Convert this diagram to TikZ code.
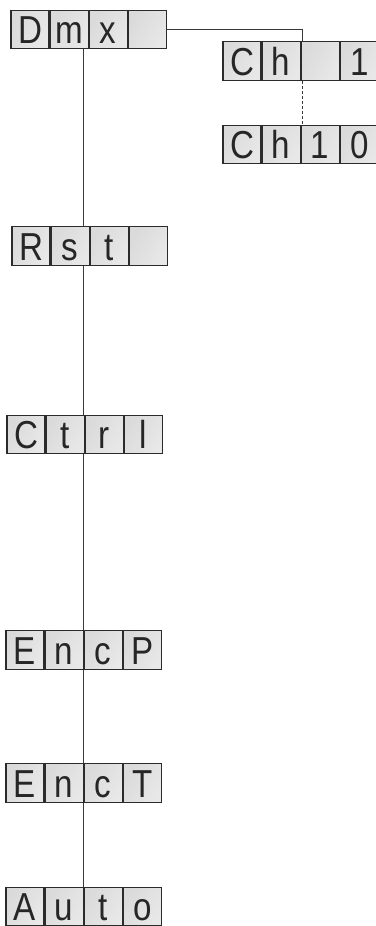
\documentclass[tikz,border=0pt]{standalone}
\usepackage{fontspec}
\newfontfamily\lcdfont[FakeStretch=0.85]{Liberation Sans}
\usetikzlibrary{positioning}
\definecolor{PanelFrame}{HTML}{2B2B2B}
\definecolor{PanelGrey}{HTML}{DADADA}
\definecolor{PanelLight}{HTML}{E8E8E8}
\definecolor{PanelWire}{HTML}{3A3A3A}
\tikzset{
    % One segment of a display
    cell/.style={
        rectangle,
        draw=PanelFrame,
        line width=1.1pt,
        left color=PanelGrey,
        middle color=white,
        right color=PanelLight,
        shading angle=60,
        minimum width=38pt,
        minimum height=38.5pt,
        inner sep=0pt,
        text height=28pt,
        text depth=0pt,
        text=black!85,
        font=\lcdfont\fontsize{39}{39}\selectfont
    },
    % Menu wire
    wire/.style={
        draw=PanelWire,
        line width=0.9pt
    }
}
\begin{document}
\begin{tikzpicture}[x=1pt, y=1pt]
        \useasboundingbox (0,0) rectangle (375,-926);

        % Main menu
        \node (dmxA) [cell] at (30,-29.5) {D};
        \node (dmxB) [cell, right=0pt of dmxA] {m};
        \node (dmxC) [cell, right=0pt of dmxB] {x};
        \node (dmxD) [cell, right=0pt of dmxC] {};

        \node (rstA) [cell] at (31,-246) {R};
        \node (rstB) [cell, right=0pt of rstA] {s};
        \node (rstC) [cell, right=0pt of rstB] {t};
        \node (rstD) [cell, right=0pt of rstC] {};

        \node (ctrlA) [cell] at (26,-434.5) {C};
        \node (ctrlB) [cell, right=0pt of ctrlA] {t};
        \node (ctrlC) [cell, right=0pt of ctrlB] {r};
        \node (ctrlD) [cell, right=0pt of ctrlC] {l};

        \node (encpA) [cell] at (25,-650) {E};
        \node (encpB) [cell, right=0pt of encpA] {n};
        \node (encpC) [cell, right=0pt of encpB] {c};
        \node (encpD) [cell, right=0pt of encpC] {P};

        \node (enctA) [cell] at (25,-783) {E};
        \node (enctB) [cell, right=0pt of enctA] {n};
        \node (enctC) [cell, right=0pt of enctB] {c};
        \node (enctD) [cell, right=0pt of enctC] {T};

        \node (autoA) [cell] at (25,-906.5) {A};
        \node (autoB) [cell, right=0pt of autoA] {u};
        \node (autoC) [cell, right=0pt of autoB] {t};
        \node (autoD) [cell, right=0pt of autoC] {o};

        % DMX channel submenu
        \node (chA) [cell] at (242,-61) {C};
        \node (chB) [cell, right=0pt of chA] {h};
        \node (chC) [cell, right=0pt of chB] {};
        \node (chD) [cell, right=0pt of chC] {1};

        \node (chtA) [cell] at (242,-144.5) {C};
        \node (chtB) [cell, right=0pt of chtA] {h};
        \node (chtC) [cell, right=0pt of chtB] {1};
        \node (chtD) [cell, right=0pt of chtC] {0};

        % Wires
        \coordinate (spine) at (83,0);
        \draw [wire] (spine |- dmxB.south) -- (spine |- rstB.north);
        \draw [wire] (spine |- rstB.south) -- (spine |- ctrlB.north);
        \draw [wire] (spine |- ctrlB.south) -- (spine |- encpB.north);
        \draw [wire] (spine |- encpB.south) -- (spine |- enctB.north);
        \draw [wire] (spine |- enctB.south) -- (spine |- autoB.north);

        \draw [wire] (dmxD.east) -| ([xshift=1.5pt]chC.north west);
        \draw [wire, dash pattern=on 3pt off 2pt] ([xshift=1.5pt]chC.south west) -- ([xshift=1.5pt]chtC.north west);
    \end{tikzpicture}
\end{document}
